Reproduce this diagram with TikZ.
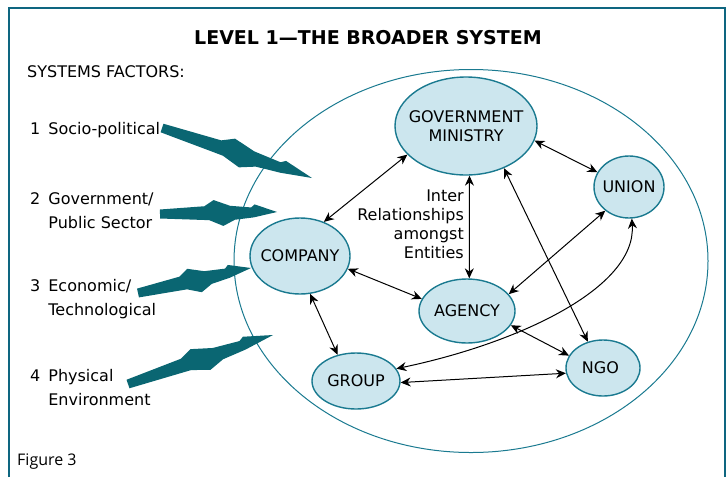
\documentclass[tikz,border=0pt]{standalone}
\usepackage{fontspec}
\setmainfont{DejaVu Sans}
\newfontfamily\captionfont{Open Sans}
\usetikzlibrary{shapes.geometric, arrows.meta, calc}

\definecolor{frameteal}{RGB}{14,102,128}
\definecolor{lineteal}{RGB}{26,122,144}
\definecolor{arrowteal}{RGB}{10,102,114}
\definecolor{entityfill}{RGB}{204,230,238}

\begin{document}
\begin{tikzpicture}[
  x=1pt, y=-1pt,
  entity node/.style={ellipse, draw=lineteal, line width=1.4pt, fill=entityfill, inner sep=0pt},
  every label/.style={align=center, font=\fontsize{16}{19}\selectfont},
  link/.style={{Stealth[length=10pt,width=9pt]}-{Stealth[length=10pt,width=9pt]}, line width=1pt},
  factor arrow/.style={fill=arrowteal},
  factor/.style={anchor=west, inner sep=0pt, font=\fontsize{16}{24}\selectfont},
]
  \newcommand*{\FactorArrow}[2]{%
    \fill[factor arrow]
      ($(#1)!4.5pt!90:(#2)$)
      \foreach \u/\v in {0.38/7pt, 0.46/13pt, 0.60/7pt, 0.78/5pt, 0.81/8pt} {
        -- ($(#1)!\u!(#2)!\v!90:(#2)$)
      }
      -- (#2)
      \foreach \u/\v in {0.80/-5pt, 0.64/-7pt, 0.54/-13pt, 0.42/-7pt} {
        -- ($(#1)!\u!(#2)!\v!90:(#2)$)
      }
      -- ($(#1)!-4.5pt!90:(#2)$) -- cycle;
  }

  \useasboundingbox (0,0) rectangle (727,477);
  \draw[frameteal, line width=2.5pt] (9,477) -- (9,8) -- (725,8) -- (725,477);

  % Headings
  \node[font=\bfseries\fontsize{19}{21}\selectfont] (title) at (368,38)
    {LEVEL 1---THE BROADER SYSTEM};
  \node[anchor=west, inner sep=0pt, font=\fontsize{16}{19}\selectfont] (factors)
    at (27,72) {SYSTEMS FACTORS:};

  % The broader system
  \node[ellipse, draw=lineteal, line width=1pt, inner sep=0pt,
    minimum width=474, minimum height=383] (system) at (471,261) {};

  % Entities, node names: gov, union, ...
  \foreach \name/\px/\py/\w/\h/\txt in {
    gov/466/126/142/98/{GOVERNMENT\\MINISTRY},
    union/629/187/70/62/{UNION},
    company/300/256/100/76/{COMPANY},
    agency/467/311/96/64/{AGENCY},
    group/356/381/88/56/{GROUP},
    ngo/603/368/74/56/{NGO}
  } {
    \node[entity node, minimum width=\w, minimum height=\h, label=center:\txt]
      (\name) at (\px,\py) {};
  }

  \node[anchor=east, align=right, inner sep=0pt, font=\fontsize{16}{19}\selectfont]
    (inter) at (464,224) {Inter\\Relationships\\amongst\\Entities};

  % Relationships amongst entities
  \draw[link] (company.55) -- (gov.206);
  \draw[link] (gov.-86) -- (agency.86);
  \draw[link] (gov.-12) -- (union.155);
  \draw[link] (gov.-48) -- (ngo.120);
  \draw[link] (union.225) -- (agency.22);
  \draw[link] (company.-15) -- (agency.165);
  \draw[link] (company.-75) -- (group.125);
  \draw[link] (agency.-18) -- (ngo.160);
  \draw[link] (group.-2) -- (ngo.188);
  \draw[link] (group.17) .. controls +(120,-25) and +(5,70) .. (union.-85);

  % Systems factors
  \node[factor] (f1) at (30,130)
    {\begin{tabular}{@{}l@{\hspace{8pt}}l@{}}1 & Socio-political\end{tabular}};
  \node[factor] (f2) at (30,212)
    {\begin{tabular}{@{}l@{\hspace{8pt}}l@{}}2 & Government/\\ & Public Sector\end{tabular}};
  \node[factor] (f3) at (30,299)
    {\begin{tabular}{@{}l@{\hspace{8pt}}l@{}}3 & Economic/\\ & Technological\end{tabular}};
  \node[factor] (f4) at (30,389)
    {\begin{tabular}{@{}l@{\hspace{8pt}}l@{}}4 & Physical\\ & Environment\end{tabular}};

  \path (162,128) coordinate (fa1-s) (312,178) coordinate (fa1-e)
        (160,214) coordinate (fa2-s) (277,212) coordinate (fa2-e)
        (138,293) coordinate (fa3-s) (251,268) coordinate (fa3-e)
        (128,384) coordinate (fa4-s) (273,335) coordinate (fa4-e);
  \foreach \i in {1,...,4} {
    \FactorArrow{fa\i-s}{fa\i-e}
  }

  \node[anchor=west, inner sep=0pt, font=\captionfont\fontsize{16}{18}\selectfont]
    (caption) at (17,462) {Figure 3};
\end{tikzpicture}
\end{document}
